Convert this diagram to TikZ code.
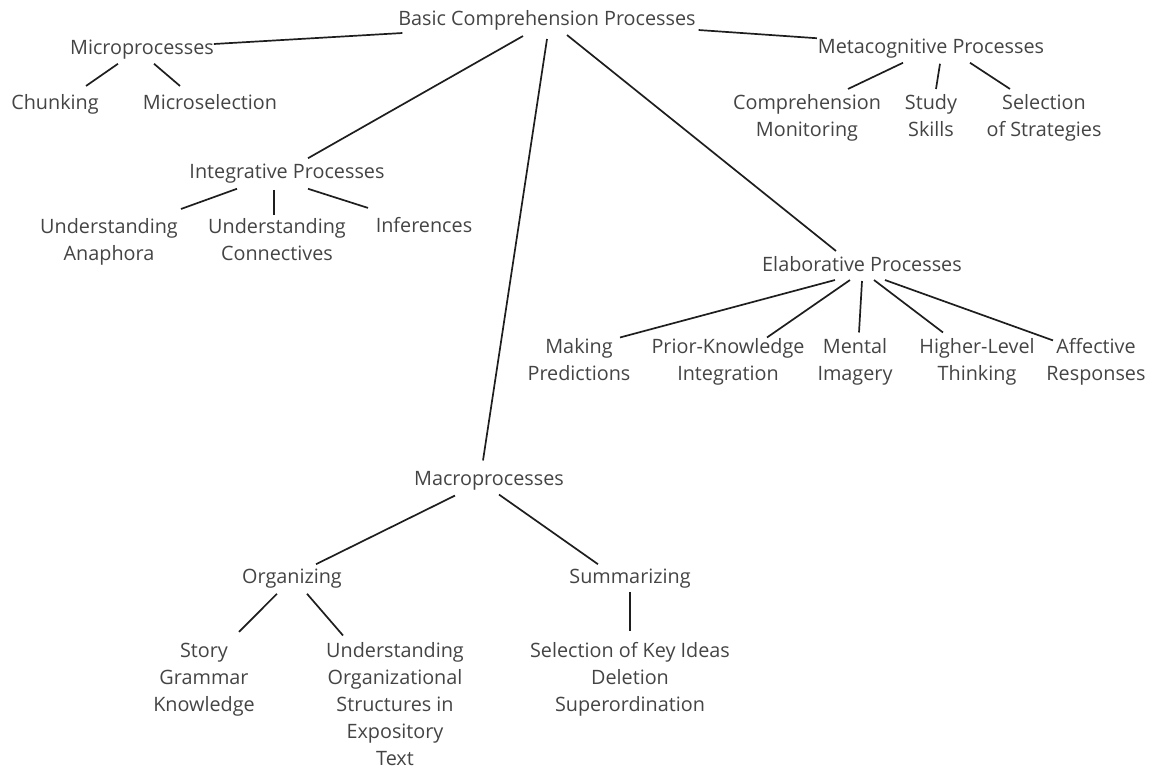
\documentclass[tikz,border=0pt]{standalone}
\usepackage{fontspec}
\setmainfont{Open Sans}
\definecolor{txt}{HTML}{444444}
\definecolor{ln}{HTML}{1E1E1E}
\newcommand{\mystrut}{\rule[-5pt]{0pt}{16pt}}
\begin{document}
\begin{tikzpicture}[x=1pt,y=-1pt,
  lbl/.style={inner sep=0pt, outer sep=0pt, align=center, text=txt,
    font=\fontsize{19.8}{27}\selectfont,
    execute at begin node=\mystrut, execute at end node=\mystrut},
  edge/.style={draw=ln, line width=1.7pt}]
\useasboundingbox (0,0) rectangle (1151,770);
% level 0
\node[lbl] (basic) at (547,20) {Basic Comprehension Processes};
% micro
\node[lbl] (micro) at (142,50) {Microprocesses};
\node[lbl] (chunk) at (55,104) {Chunking};
\node[lbl] (microsel) at (210,104) {Microselection};
% meta
\node[lbl] (meta) at (931,49) {Metacognitive Processes};
\node[lbl] (compmon) at (807,117.5) {Comprehension\\Monitoring};
\node[lbl] (study) at (931,117.5) {Study\\Skills};
\node[lbl] (selstrat) at (1044,117.5) {Selection\\of Strategies};
% integrative
\node[lbl] (integ) at (287,174) {Integrative Processes};
\node[lbl] (anaph) at (109,241.5) {Understanding\\Anaphora};
\node[lbl] (connect) at (277,241.5) {Understanding\\Connectives};
\node[lbl] (infer) at (424,227) {Inferences};
% elaborative
\node[lbl] (elab) at (862,266) {Elaborative Processes};
\node[lbl] (making) at (579,362) {Making\\Predictions};
\node[lbl] (prior) at (728,362) {Prior-Knowledge\\Integration};
\node[lbl] (mental) at (855,362) {Mental\\Imagery};
\node[lbl] (higher) at (977,362) {Higher-Level\\Thinking};
\node[lbl] (affect) at (1096,362) {Affective\\Responses};
% macro
\node[lbl] (macro) at (489,481) {Macroprocesses};
\node[lbl] (org) at (292,579) {Organizing};
\node[lbl] (summ) at (630,579) {Summarizing};
\node[lbl] (story) at (204,679.5) {Story\\Grammar\\Knowledge};
\node[lbl] (undorg) at (395,706.5) {Understanding\\Organizational\\Structures in\\Expository\\Text};
\node[lbl] (selkey) at (630,679.5) {Selection of Key Ideas\\Deletion\\Superordination};
% connectors from the root
\draw[edge] ([xshift=4pt,yshift=-3pt]basic.south west) -- ([yshift=6pt]micro.east);
\draw[edge] ([xshift=3pt]basic.south east) -- ([xshift=-1pt,yshift=1pt]meta.north west);
\draw[edge] ([xshift=-24pt,yshift=-6pt]basic.south) -- ([xshift=21pt,yshift=6pt]integ.north);
\draw[edge] ([yshift=-9pt]basic.south) -- ([xshift=-6pt,yshift=11pt]macro.north);
\draw[edge] ([xshift=20pt,yshift=-5pt]basic.south) -- ([xshift=-26pt,yshift=5pt]elab.north);
% micro
\draw[edge] ([xshift=-24pt,yshift=-4pt]micro.south) -- ([xshift=31pt,yshift=8pt]chunk.north);
\draw[edge] ([xshift=12pt,yshift=-4pt]micro.south) -- ([xshift=-30pt,yshift=8pt]microsel.north);
% meta
\draw[edge] ([xshift=-28pt,yshift=-4pt]meta.south) -- ([xshift=41pt,yshift=5pt]compmon.north);
\draw[edge] ([xshift=9pt,yshift=-5pt]meta.south) -- ([xshift=5pt,yshift=5pt]study.north);
\draw[edge] ([xshift=39pt,yshift=-4pt]meta.south) -- ([xshift=-34pt,yshift=5pt]selstrat.north);
% integrative
\draw[edge] ([xshift=-50pt,yshift=-5pt]integ.south) -- ([xshift=72pt,yshift=9pt]anaph.north);
\draw[edge] ([xshift=-13pt,yshift=-6pt]integ.south) -- ([xshift=-3pt,yshift=3pt]connect.north);
\draw[edge] ([xshift=21pt,yshift=-5pt]integ.south) -- ([xshift=-56pt,yshift=9pt]infer.north);
% elaborative
\draw[edge] ([xshift=-27pt,yshift=-4pt]elab.south) -- ([xshift=41pt,yshift=1pt]making.north);
\draw[edge] ([xshift=-12pt,yshift=-4pt]elab.south) -- ([xshift=39pt,yshift=1pt]prior.north);
\draw[edge] ([yshift=-5pt]elab.south) -- ([xshift=4pt,yshift=6pt]mental.north);
\draw[edge] ([xshift=12pt,yshift=-4pt]elab.south) -- ([xshift=-34pt,yshift=6pt]higher.north);
\draw[edge] ([xshift=23pt,yshift=-4pt]elab.south) -- ([xshift=-43pt,yshift=-2pt]affect.north);
% macro
\draw[edge] ([xshift=-34pt,yshift=-5pt]macro.south) -- ([xshift=24pt,yshift=5pt]org.north);
\draw[edge] ([xshift=10pt,yshift=-4pt]macro.south) -- ([xshift=-32pt,yshift=5pt]summ.north);
\draw[edge] ([xshift=-15pt,yshift=-5pt]org.south) -- ([xshift=35pt,yshift=11pt]story.north);
\draw[edge] ([xshift=15pt,yshift=-5pt]org.south) -- ([xshift=-52pt,yshift=7pt]undorg.north);
\draw[edge] ([yshift=-3pt]summ.south) -- ([yshift=11pt]selkey.north);
\end{tikzpicture}
\end{document}
